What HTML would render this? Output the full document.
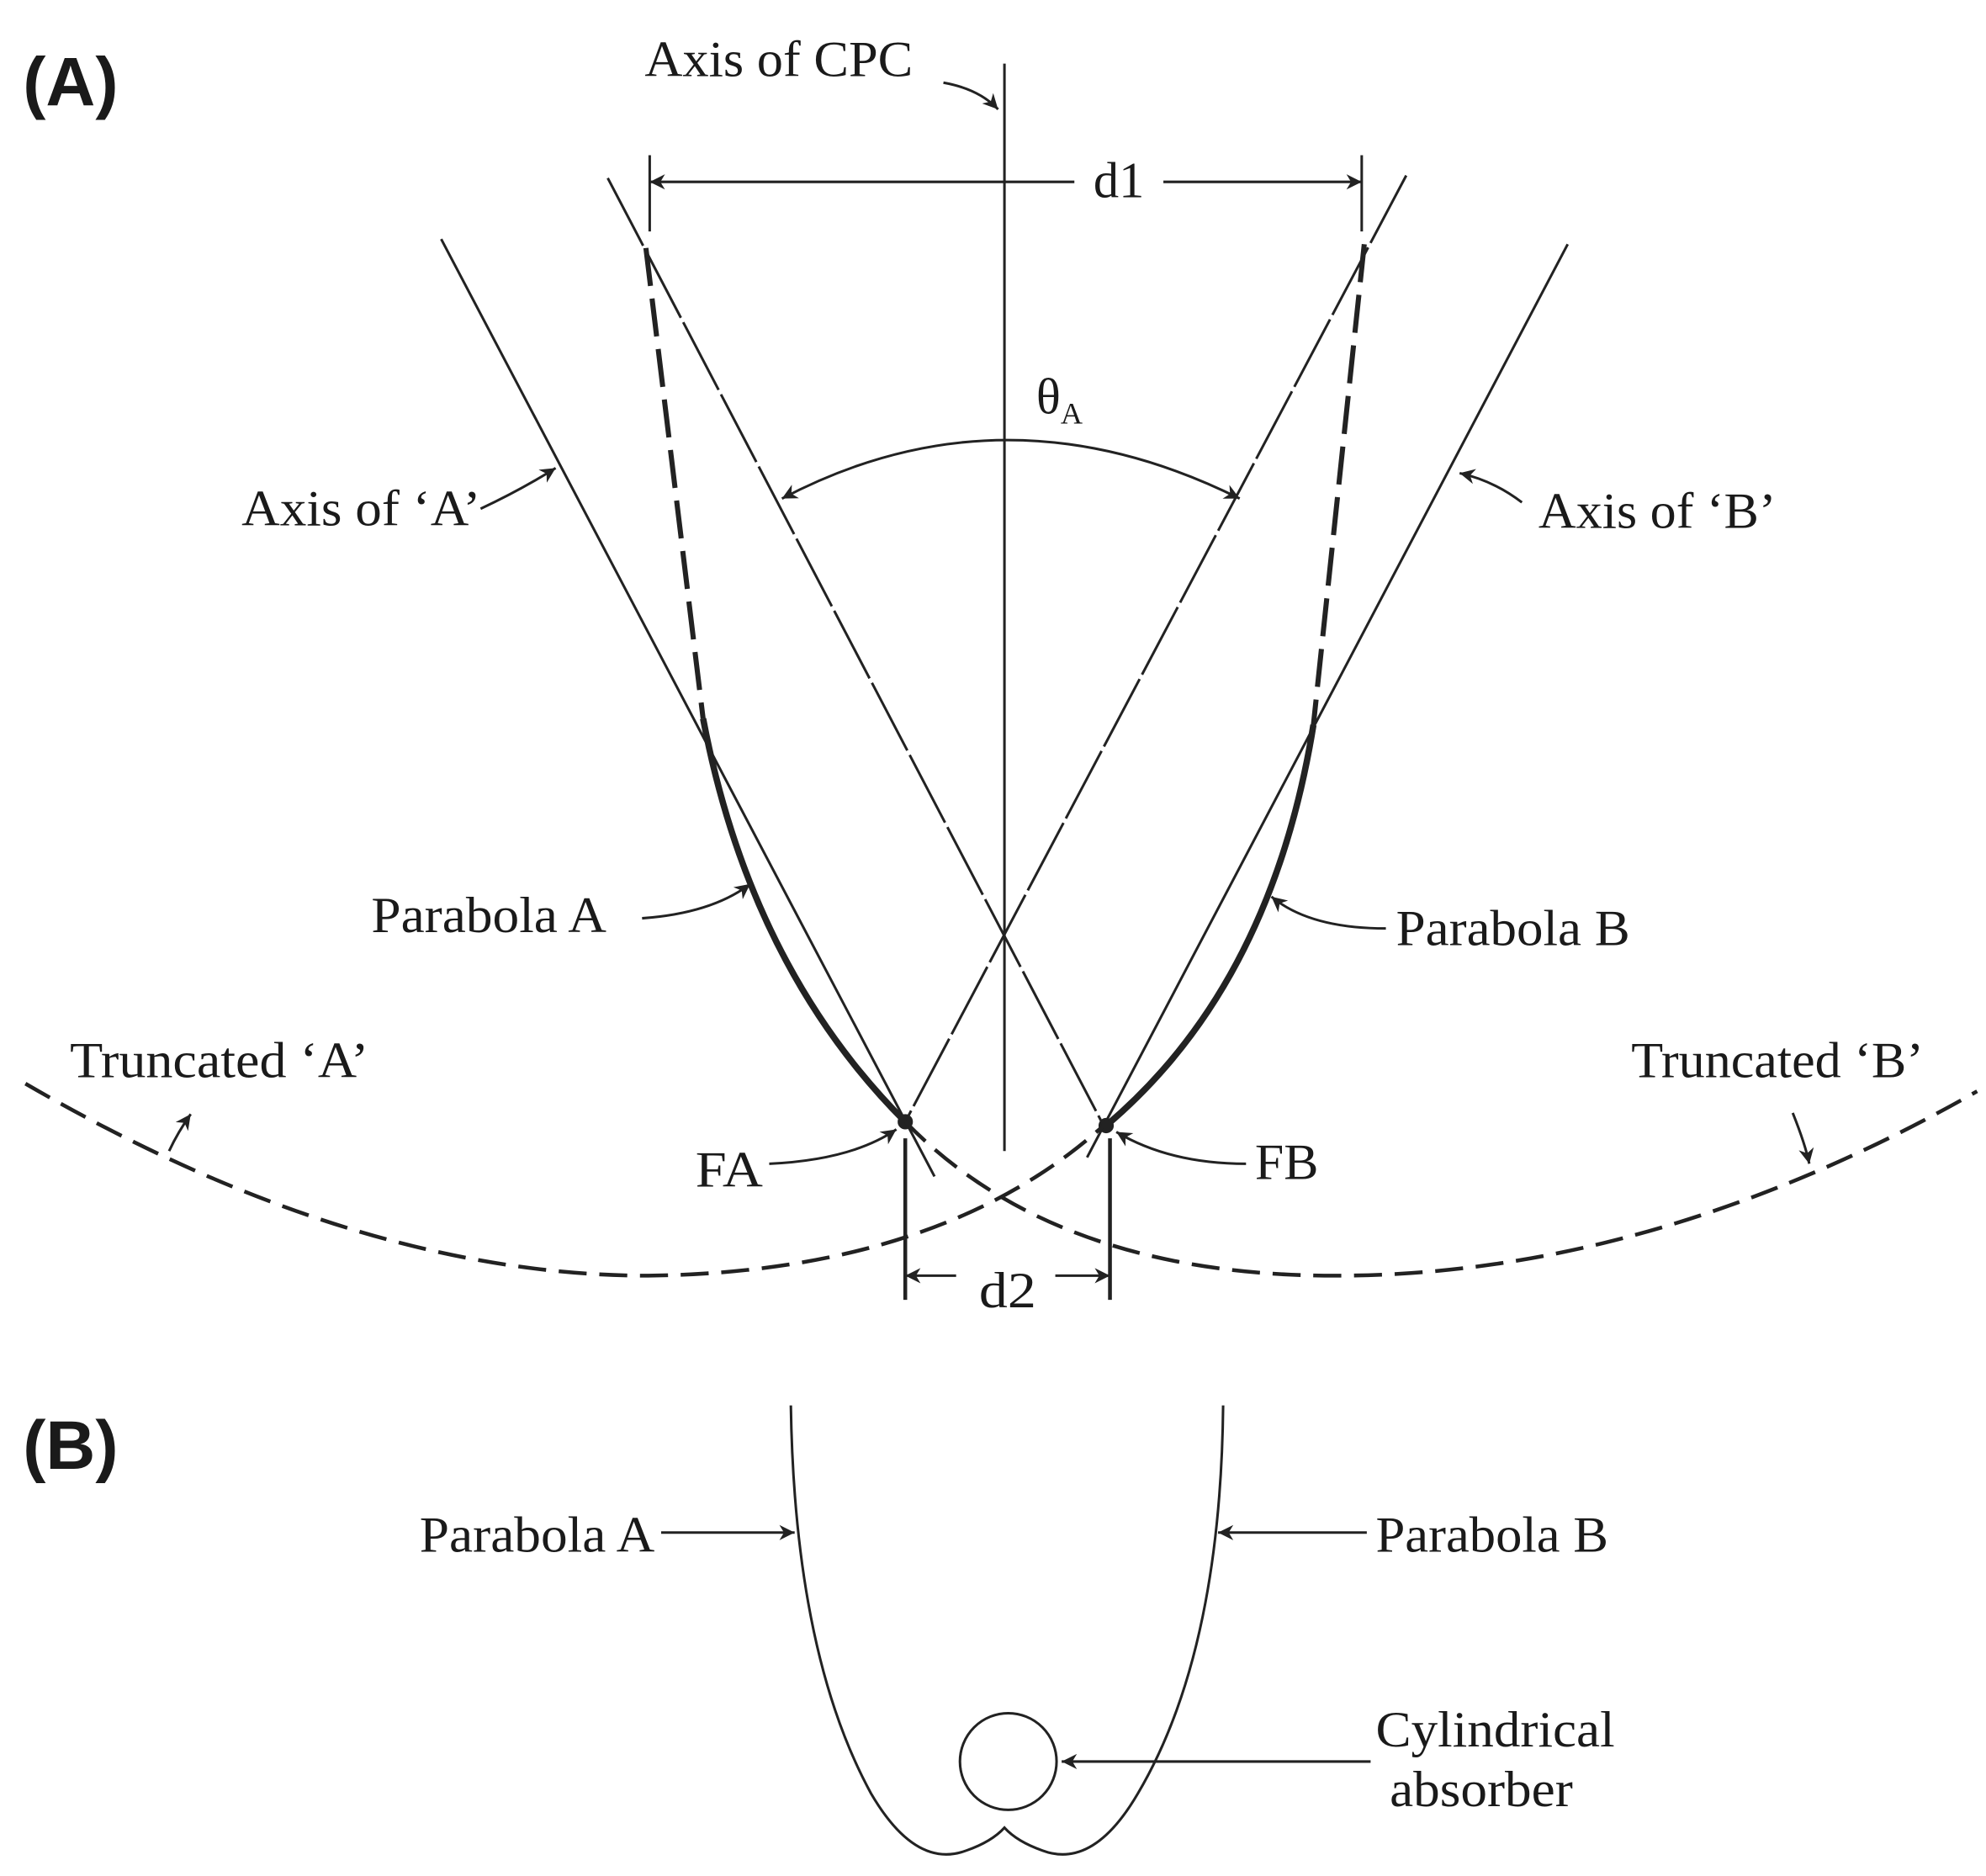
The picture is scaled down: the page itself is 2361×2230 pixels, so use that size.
<!DOCTYPE html>
<html><head><meta charset="utf-8"><style>
html,body{margin:0;padding:0;background:#fff;}
svg{display:block;}
text{font-family:"Liberation Serif",serif;fill:#1a1a1a;}
</style></head><body>
<svg width="2361" height="2230" viewBox="0 0 1562 1475" preserveAspectRatio="none" xmlns="http://www.w3.org/2000/svg">
<defs>
<marker id="ar2" viewBox="0 0 10 10" refX="10" refY="5" markerWidth="16" markerHeight="12" orient="auto-start-reverse" markerUnits="userSpaceOnUse">
<path d="M0,0 L10,5 L0,10 L3,5 z" fill="#222"/></marker>
</defs>
<g stroke="#222" fill="none" stroke-width="2">
<line x1="790" y1="50" x2="790" y2="905"/>
<path d="M742,65 Q770,70 785,86" marker-end="url(#ar2)"/>
<line x1="511" y1="122" x2="511" y2="182"/>
<line x1="1071" y1="122" x2="1071" y2="182"/>
<line x1="511" y1="143" x2="845" y2="143" marker-start="url(#ar2)"/>
<line x1="915" y1="143" x2="1071" y2="143" marker-end="url(#ar2)"/>
<line x1="347" y1="188" x2="735" y2="925"/>
<line x1="1233" y1="192" x2="855" y2="910"/>
<line x1="478" y1="140" x2="868" y2="885" stroke-dasharray="60 4"/>
<line x1="1106" y1="138" x2="712" y2="882" stroke-dasharray="60 4"/>
<line x1="508" y1="195" x2="553" y2="565" stroke-width="4" stroke-dasharray="30 10"/>
<line x1="1073" y1="192" x2="1033" y2="570" stroke-width="4" stroke-dasharray="30 10"/>
<path d="M553,565 Q590,760 712,882" stroke-width="5"/>
<path d="M1033,570 Q1000,775 870,885" stroke-width="5"/>
<circle cx="712" cy="882" r="5" fill="#222"/>
<circle cx="870" cy="885" r="5" fill="#222"/>
<path d="M615,392 Q790,300 975,392" marker-start="url(#ar2)" marker-end="url(#ar2)"/>
<path d="M378,400 Q410,385 437,368" marker-end="url(#ar2)"/>
<path d="M1197,395 Q1175,378 1148,372" marker-end="url(#ar2)"/>
<path d="M505,722 Q560,718 590,695" marker-end="url(#ar2)"/>
<path d="M1090,730 Q1030,730 1000,705" marker-end="url(#ar2)"/>
<path d="M133,905 Q140,890 150,876" marker-end="url(#ar2)"/>
<path d="M1410,875 Q1420,900 1423,915" marker-end="url(#ar2)"/>
<path d="M605,915 Q670,912 705,888" marker-end="url(#ar2)"/>
<path d="M980,915 Q920,915 878,890" marker-end="url(#ar2)"/>
<path d="M20,852 Q280,1003 510,1003 Q740,1000 868,885" stroke-width="3" stroke-dasharray="22 10"/>
<path d="M712,882 Q830,1003 1050,1003 Q1300,1003 1555,858" stroke-width="3" stroke-dasharray="22 10"/>
<line x1="712" y1="895" x2="712" y2="1022" stroke-width="3"/>
<line x1="873" y1="895" x2="873" y2="1022" stroke-width="3"/>
<line x1="712" y1="1003" x2="752" y2="1003" marker-start="url(#ar2)"/>
<line x1="830" y1="1003" x2="873" y2="1003" marker-end="url(#ar2)"/>
<path d="M622,1105 Q625,1300 685,1410 Q720,1470 760,1455 Q780,1448 790,1437 Q800,1448 820,1455 Q860,1470 895,1410 Q960,1300 962,1105"/>
<circle cx="793" cy="1385" r="38"/>
<line x1="520" y1="1205" x2="625" y2="1205" marker-end="url(#ar2)"/>
<line x1="1075" y1="1205" x2="958" y2="1205" marker-end="url(#ar2)"/>
<line x1="1078" y1="1385" x2="835" y2="1385" marker-end="url(#ar2)"/>
</g>
<g font-size="40" lengthAdjust="spacingAndGlyphs">
<text x="18" y="83" font-weight="bold" font-size="54" style="font-family:'Liberation Sans',sans-serif">(A)</text>
<text x="18" y="1155" font-weight="bold" font-size="54" style="font-family:'Liberation Sans',sans-serif">(B)</text>
<text x="507" y="60" textLength="211" lengthAdjust="spacingAndGlyphs">Axis of CPC</text>
<text x="860" y="155" textLength="40" lengthAdjust="spacingAndGlyphs">d1</text>
<text x="815" y="325">θ<tspan font-size="24" dy="8">A</tspan></text>
<text x="190" y="413" textLength="188" lengthAdjust="spacingAndGlyphs">Axis of ‘A’</text>
<text x="1210" y="415" textLength="187" lengthAdjust="spacingAndGlyphs">Axis of ‘B’</text>
<text x="292" y="733" textLength="185" lengthAdjust="spacingAndGlyphs">Parabola A</text>
<text x="1098" y="743" textLength="184" lengthAdjust="spacingAndGlyphs">Parabola B</text>
<text x="55" y="847" textLength="235" lengthAdjust="spacingAndGlyphs">Truncated ‘A’</text>
<text x="1283" y="847" textLength="230" lengthAdjust="spacingAndGlyphs">Truncated ‘B’</text>
<text x="547" y="933" textLength="53" lengthAdjust="spacingAndGlyphs">FA</text>
<text x="987" y="927" textLength="50" lengthAdjust="spacingAndGlyphs">FB</text>
<text x="770" y="1028" textLength="45" lengthAdjust="spacingAndGlyphs">d2</text>
<text x="330" y="1220" textLength="185" lengthAdjust="spacingAndGlyphs">Parabola A</text>
<text x="1082" y="1220" textLength="183" lengthAdjust="spacingAndGlyphs">Parabola B</text>
<text x="1082" y="1373" textLength="188" lengthAdjust="spacingAndGlyphs">Cylindrical</text>
<text x="1093" y="1420" textLength="144" lengthAdjust="spacingAndGlyphs">absorber</text>
</g>
</svg>
</body></html>
